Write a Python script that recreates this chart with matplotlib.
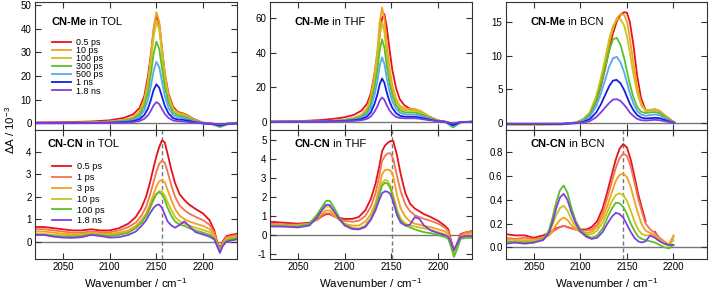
import matplotlib
matplotlib.use('Agg')
import numpy as np
import matplotlib.pyplot as plt

plt.rcParams['font.family'] = ['Liberation Sans', 'DejaVu Sans']
plt.rcParams['mathtext.fontset'] = 'custom'
plt.rcParams['mathtext.rm'] = 'Liberation Sans'
plt.rcParams['mathtext.it'] = 'Liberation Sans:italic'
plt.rcParams['mathtext.bf'] = 'Liberation Sans:bold'

# ---------------- data ----------------
# CN-Me in TOL
wn_me_tol = [2020, 2050, 2080, 2100, 2115, 2125, 2132, 2137, 2141, 2144, 2147, 2150, 2153, 2156, 2159, 2163, 2168, 2173, 2178, 2183, 2190, 2200, 2210, 2218, 2226, 2236]
me_tol_05ps = [0.4,0.5,0.8,1.3,2.3,3.8,6.5,11.5,20,29,39.5,45.8,42,31.5,21,12.5,7,4.8,4.3,3.5,1.8,0.3,-0.1,-0.5,-0.1,0]
me_tol_10ps = [0.2,0.25,0.4,0.8,1.5,2.6,5,10,18,28,40,47,43,32,21,11.8,6.3,4.5,4.1,3.3,1.6,0.2,-0.3,-1.2,-0.3,0]
me_tol_100ps = [0.2,0.2,0.35,0.7,1.3,2.3,4.5,9.1,16.5,25.6,36.6,43,39.5,29.3,19.2,10.8,5.8,4.1,3.7,3,1.4,0.1,-0.4,-1.5,-0.4,0]
me_tol_300ps = [0.15,0.2,0.3,0.55,1.1,1.9,3.7,7.3,13.2,20.5,29.4,34.5,31.6,23.4,15.4,8.7,4.6,3.3,3.0,2.4,1.2,0.1,-0.4,-1.5,-0.4,0]
me_tol_500ps = [0.1,0.15,0.2,0.45,0.8,1.4,2.8,5.5,10,15.5,22.1,26,23.8,17.7,11.6,6.5,3.5,2.5,2.3,1.8,0.9,0.05,-0.3,-1.2,-0.3,0]
me_tol_1ns = [0.1,0.1,0.15,0.3,0.5,0.9,1.8,3.5,6.3,9.8,14.1,16.5,15.1,11.3,7.4,4.2,2.2,1.6,1.5,1.2,0.6,0,-0.2,-0.9,-0.2,0]
me_tol_18ns = [0.05,0.05,0.1,0.15,0.3,0.5,1.0,1.9,3.4,5.3,7.6,9,8.2,6.1,4.0,2.3,1.2,0.9,0.8,0.6,0.3,0,-0.1,-0.5,-0.1,0]

# CN-Me in THF
wn_me_thf = [2020, 2050, 2075, 2090, 2100, 2110, 2118, 2124, 2128, 2132, 2135, 2137.5, 2140, 2142.5, 2145, 2148, 2151, 2155, 2159, 2164, 2170, 2176, 2182, 2190, 2200, 2208, 2216, 2224, 2236]
me_thf_05ps = [0,0.3,1.0,1.8,2.6,4,6.5,10.5,16.5,28,39,50,60,62.5,55,42,30,19.5,13,9.5,7.5,7,5.5,3,0.8,0,-1.5,-0.3,0]
me_thf_10ps = [0,0.1,0.3,0.7,1.2,2.3,4,8,14.6,27.8,41.8,57.7,66.3,59.7,45.1,31.2,21.2,13.3,9.3,7.6,7.3,7.3,6,3.3,0.8,-0.2,-3,-0.5,0]
me_thf_100ps = [0,0.1,0.3,0.6,1.0,2.0,3.5,7,12.8,24.4,36.5,50.5,58,52.2,39.4,27.3,18.6,11.6,8.1,6.7,6.4,6.4,5.2,2.9,0.7,-0.2,-3.2,-0.5,0]
me_thf_300ps = [0,0.1,0.2,0.5,0.9,1.7,2.9,5.7,10.5,20.1,30.1,41.6,47.8,43,32.5,22.5,15.3,9.6,6.7,5.5,5.3,5.3,4.3,2.4,0.6,-0.1,-3.3,-0.4,0]
me_thf_500ps = [0,0.1,0.2,0.4,0.7,1.3,2.2,4.5,8.2,15.7,23.5,32.5,37.3,33.6,25.4,17.5,11.9,7.5,5.2,4.3,4.1,4.1,3.4,1.9,0.4,-0.1,-2.6,-0.3,0]
me_thf_1ns = [0,0,0.1,0.3,0.5,0.9,1.5,3,5.5,10.5,15.8,21.8,25.1,22.6,17.1,11.8,8,5,3.5,2.9,2.8,2.8,2.3,1.3,0.3,-0.1,-2,-0.2,0]
me_thf_18ns = [0,0,0.1,0.2,0.3,0.5,0.9,1.7,3.1,5.9,8.9,12.3,14.1,12.7,9.6,6.6,4.5,2.8,2.2,2,2,2,1.6,0.9,0.2,0,-1,-0.1,0]

# CN-Me in BCN
wn_me_bcn = [2020, 2050, 2080, 2095, 2103, 2110, 2117, 2122, 2127, 2131, 2135, 2139, 2143, 2147, 2150, 2153, 2157, 2161, 2165, 2170, 2175, 2180, 2185, 2192, 2201]
me_bcn_05ps = [-0.15,-0.15,-0.1,0.1,0.5,1.3,3.2,5.5,8.3,11,13.3,15,16,16.4,16.3,15,11.5,7,3.8,1.9,1.9,2.05,1.8,1.0,0.1]
me_bcn_10ps = [-0.2,-0.2,-0.15,0.1,0.6,1.5,3.8,6.3,9.3,12,14,15.5,16.1,16,15,12.6,8.8,5.3,3,1.9,2.0,2.05,1.8,1.0,0.1]
me_bcn_100ps = [-0.25,-0.25,-0.2,0.1,0.6,1.6,4,6.7,9.8,12.5,14.4,15.3,15.4,14.4,12.8,10.5,7.2,4.5,2.7,1.8,1.9,2.0,1.7,0.9,0.1]
me_bcn_300ps = [-0.1,-0.1,-0.1,0.1,0.5,1.3,3.3,5.7,8.5,10.8,12.4,12.6,11.6,9.6,7.7,5.8,3.8,2.4,1.7,1.5,1.6,1.65,1.5,0.8,0.1]
me_bcn_500ps = [-0.1,-0.1,-0.1,0.05,0.35,1,2.5,4.4,6.6,8.4,9.6,9.8,9,7.5,6,4.5,2.9,1.8,1.3,1.1,1.2,1.3,1.2,0.6,0.1]
me_bcn_1ns = [-0.1,-0.1,-0.1,0,0.2,0.6,1.6,2.8,4.3,5.5,6.3,6.4,5.9,4.9,3.9,2.9,1.9,1.2,0.85,0.7,0.75,0.8,0.75,0.4,0.05]
me_bcn_18ns = [-0.05,-0.05,-0.05,0,0.1,0.3,0.9,1.6,2.4,3.0,3.5,3.55,3.3,2.7,2.2,1.6,1.05,0.65,0.45,0.4,0.45,0.5,0.45,0.25,0.05]

# CN-CN in TOL
wn_cn_tol = [2020, 2030, 2040, 2050, 2060, 2070, 2080, 2090, 2100, 2110, 2120, 2128, 2134, 2139, 2143, 2147, 2150, 2153, 2156, 2159, 2162, 2166, 2170, 2175, 2180, 2185, 2192, 2200, 2207, 2212, 2215, 2218, 2221, 2225, 2230, 2236]
cn_tol_05ps = [0.65,0.65,0.6,0.55,0.5,0.5,0.55,0.5,0.5,0.6,0.8,1.1,1.5,2.0,2.6,3.3,3.8,4.2,4.5,4.4,3.9,3.2,2.6,2.1,1.85,1.65,1.45,1.25,0.95,0.5,0.0,-0.3,0.0,0.25,0.3,0.35]
cn_tol_1ps = [0.55,0.55,0.5,0.45,0.4,0.4,0.45,0.42,0.42,0.5,0.65,0.85,1.15,1.55,2.05,2.65,3.1,3.45,3.6,3.5,3.1,2.5,2.0,1.6,1.4,1.25,1.1,0.95,0.75,0.4,-0.05,-0.35,-0.05,0.2,0.25,0.3]
cn_tol_3ps = [0.45,0.45,0.4,0.35,0.33,0.33,0.4,0.35,0.35,0.4,0.5,0.7,0.95,1.25,1.65,2.1,2.45,2.68,2.75,2.62,2.3,1.85,1.45,1.15,1.0,0.9,0.8,0.7,0.55,0.3,-0.1,-0.4,-0.1,0.15,0.2,0.25]
cn_tol_10ps = [0.35,0.35,0.3,0.28,0.27,0.28,0.35,0.3,0.3,0.35,0.45,0.62,0.85,1.12,1.45,1.85,2.1,2.25,2.22,2.05,1.75,1.4,1.1,0.9,0.8,0.72,0.62,0.52,0.42,0.2,-0.15,-0.42,-0.1,0.1,0.15,0.2]
cn_tol_100ps = [0.3,0.3,0.25,0.22,0.22,0.25,0.32,0.28,0.25,0.3,0.4,0.6,0.85,1.15,1.5,1.9,2.12,2.2,2.1,1.85,1.5,1.15,0.9,0.75,0.7,0.6,0.5,0.4,0.3,0.15,-0.15,-0.45,-0.15,0.05,0.1,0.15]
cn_tol_18ns = [0.3,0.3,0.22,0.18,0.17,0.2,0.3,0.25,0.18,0.2,0.3,0.45,0.7,0.95,1.25,1.5,1.62,1.65,1.5,1.2,0.9,0.72,0.62,0.75,0.9,0.7,0.42,0.32,0.22,0.1,-0.2,-0.5,-0.2,0.0,0.05,0.1]

# CN-CN in THF
wn_cn_thf = [2020, 2035, 2050, 2062, 2070, 2076, 2080, 2084, 2088, 2094, 2100, 2108, 2115, 2122, 2128, 2133, 2137, 2140, 2143, 2146, 2149, 2152, 2156, 2160, 2165, 2170, 2175, 2180, 2185, 2192, 2200, 2207, 2211, 2214, 2217, 2220, 2224, 2230, 2236]
cn_thf_05ps = [0.7,0.65,0.6,0.65,0.8,1.0,1.1,1.1,1.0,0.9,0.85,0.85,0.95,1.3,1.9,2.7,3.6,4.4,4.7,4.85,4.95,4.95,4.2,3.2,2.2,1.65,1.4,1.25,1.1,0.95,0.75,0.5,0.3,-0.3,-0.8,-0.5,0.05,0.15,0.2]
cn_thf_1ps = [0.6,0.55,0.55,0.6,0.8,1.05,1.15,1.15,1.0,0.85,0.75,0.7,0.75,1.0,1.5,2.2,3.1,3.9,4.15,4.3,4.3,4.0,3.1,2.3,1.6,1.25,1.05,0.95,0.85,0.75,0.6,0.4,0.2,-0.35,-0.85,-0.5,0.0,0.15,0.2]
cn_thf_3ps = [0.55,0.5,0.5,0.6,0.85,1.15,1.3,1.3,1.1,0.8,0.6,0.5,0.5,0.7,1.1,1.7,2.5,3.2,3.42,3.45,3.4,3.1,2.1,1.4,0.95,0.72,0.6,0.55,0.48,0.42,0.3,0.2,0.05,-0.45,-0.95,-0.6,-0.1,0.05,0.1]
cn_thf_10ps = [0.5,0.5,0.5,0.6,0.95,1.3,1.5,1.5,1.25,0.85,0.55,0.38,0.35,0.5,0.9,1.5,2.2,2.75,2.9,2.85,2.6,2.1,1.35,0.85,0.6,0.5,0.45,0.4,0.35,0.28,0.15,0.05,-0.1,-0.55,-1.05,-0.7,-0.15,-0.05,0.0]
cn_thf_100ps = [0.5,0.45,0.45,0.6,1.05,1.5,1.8,1.8,1.5,0.95,0.55,0.35,0.3,0.45,0.85,1.45,2.1,2.6,2.75,2.7,2.45,1.9,1.2,0.75,0.5,0.4,0.3,0.22,0.15,0.1,0.0,-0.1,-0.2,-0.65,-1.15,-0.8,-0.2,-0.15,-0.15]
cn_thf_18ns = [0.45,0.45,0.4,0.5,0.9,1.35,1.6,1.58,1.3,0.85,0.5,0.32,0.3,0.42,0.8,1.3,1.85,2.2,2.3,2.28,2.15,1.75,1.05,0.65,0.5,0.55,0.95,0.85,0.5,0.25,0.1,0.0,-0.1,-0.4,-0.8,-0.5,-0.1,-0.05,-0.05]

# CN-CN in BCN
wn_cn_bcn = [2020, 2030, 2040, 2050, 2060, 2066, 2070, 2074, 2078, 2082, 2086, 2090, 2095, 2100, 2106, 2112, 2118, 2124, 2129, 2134, 2138, 2142, 2146, 2150, 2154, 2158, 2162, 2166, 2170, 2175, 2180, 2185, 2190, 2195, 2200]
cn_bcn_05ps = [0.11,0.1,0.1,0.08,0.1,0.12,0.14,0.16,0.17,0.18,0.17,0.16,0.15,0.15,0.15,0.17,0.22,0.33,0.47,0.62,0.74,0.83,0.87,0.84,0.74,0.6,0.45,0.33,0.22,np.nan,0.13,0.07,np.nan,np.nan,np.nan]
cn_bcn_1ps = [0.08,0.07,0.08,0.07,0.08,0.1,0.13,0.15,0.17,0.18,0.17,0.16,0.15,0.14,0.14,0.15,0.19,0.29,0.42,0.56,0.67,0.75,0.79,0.77,0.68,0.55,0.41,0.3,0.2,0.15,0.12,0.08,0.05,0.02,0.09]
cn_bcn_3ps = [0.07,0.06,0.06,0.06,0.07,0.1,0.14,0.19,0.23,0.25,0.23,0.19,0.15,0.13,0.12,0.13,0.17,0.25,0.35,0.47,0.56,0.61,0.62,0.59,0.51,0.39,0.28,0.19,0.14,0.12,0.1,0.07,0.04,0.02,0.1]
cn_bcn_10ps = [0.05,0.05,0.05,0.05,0.07,0.12,0.19,0.27,0.33,0.35,0.31,0.24,0.17,0.13,0.11,0.11,0.14,0.21,0.3,0.39,0.44,0.455,0.44,0.39,0.31,0.22,0.15,0.11,0.1,0.1,0.08,0.06,0.03,0.01,0.06]
cn_bcn_100ps = [0.05,0.04,0.04,0.04,0.07,0.14,0.25,0.38,0.48,0.52,0.46,0.34,0.22,0.15,0.1,0.08,0.1,0.16,0.25,0.33,0.375,0.37,0.34,0.28,0.2,0.14,0.09,0.07,0.06,0.05,0.04,0.02,0.0,-0.01,0.02]
cn_bcn_18ns = [0.03,0.04,0.03,0.04,0.06,0.12,0.21,0.33,0.42,0.45,0.4,0.3,0.2,0.13,0.09,0.07,0.08,0.13,0.2,0.26,0.29,0.28,0.25,0.19,0.13,0.08,0.05,0.04,0.05,0.1,0.08,0.05,0.03,0.02,0.02]

me_labels = ['0.5 ps', '10 ps', '100 ps', '300 ps', '500 ps', '1 ns', '1.8 ns']
cn_labels = ['0.5 ps', '1 ps', '3 ps', '10 ps', '100 ps', '1.8 ns']
solvents = ['TOL', 'THF', 'BCN']
dash_pos = [2156.5, 2151, 2146]

# ---------------- styles ----------------
RED = '#e8101a'; ORANGE = '#f5a020'; CORAL = '#f07550'; YELLOW = '#cac31e'
GREEN = '#5cbf2a'; LBLUE = '#55a8f0'; BLUE = '#1020e0'; PURPLE = '#7f3fe0'
me_colors = [RED, ORANGE, YELLOW, GREEN, LBLUE, BLUE, PURPLE]
cn_colors = [RED, CORAL, ORANGE, YELLOW, GREEN, PURPLE]

me_sets = [
    (wn_me_tol, [me_tol_05ps, me_tol_10ps, me_tol_100ps, me_tol_300ps, me_tol_500ps, me_tol_1ns, me_tol_18ns]),
    (wn_me_thf, [me_thf_05ps, me_thf_10ps, me_thf_100ps, me_thf_300ps, me_thf_500ps, me_thf_1ns, me_thf_18ns]),
    (wn_me_bcn, [me_bcn_05ps, me_bcn_10ps, me_bcn_100ps, me_bcn_300ps, me_bcn_500ps, me_bcn_1ns, me_bcn_18ns]),
]
cn_sets = [
    (wn_cn_tol, [cn_tol_05ps, cn_tol_1ps, cn_tol_3ps, cn_tol_10ps, cn_tol_100ps, cn_tol_18ns]),
    (wn_cn_thf, [cn_thf_05ps, cn_thf_1ps, cn_thf_3ps, cn_thf_10ps, cn_thf_100ps, cn_thf_18ns]),
    (wn_cn_bcn, [cn_bcn_05ps, cn_bcn_1ps, cn_bcn_3ps, cn_bcn_10ps, cn_bcn_100ps, cn_bcn_18ns]),
]
top_ylims = [(-2.8, 51.3), (-4.8, 69.5), (-1.0, 17.9)]
top_yticks = [[0, 10, 20, 30, 40, 50], [0, 20, 40, 60], [0, 5, 10, 15]]
bot_ylims = [(-0.77, 4.96), (-1.26, 5.53), (-0.099, 0.988)]
bot_yticks = [[0, 1, 2, 3, 4], [-1, 0, 1, 2, 3, 4, 5], [0.0, 0.2, 0.4, 0.6, 0.8]]
bot_fmt = ['{:g}', '{:g}', '{:.1f}']

W, H = 709, 291
fig = plt.figure(figsize=(W / 100, H / 100), dpi=100)
col_left = [35, 270, 506]
col_w = [201.7, 201.7, 201]
y_top, y_mid, y_bot = 2, 130, 259
TF = 7.0
LW = 1.3
SP = '#333333'

def style(ax):
    for s in ax.spines.values():
        s.set_color(SP); s.set_linewidth(0.8)
    ax.tick_params(axis='both', which='both', direction='in', length=4, width=0.8,
                   color=SP, labelsize=TF, pad=2.5)
    ax.tick_params(axis='x', top=True, bottom=True)
    ax.tick_params(axis='y', left=True, right=True)
    ax.set_xlim(2020, 2236)
    ax.set_xticks([2050, 2100, 2150, 2200])

def label(ax, bold, rest, x, y):
    t = ax.text(x, y, bold, transform=ax.transAxes, fontsize=8, fontweight='bold',
                va='top', ha='left')
    ax.annotate(rest, xy=(1, 0), xycoords=t, fontsize=8, va='bottom', ha='left')

for i in range(3):
    x0 = col_left[i] / W
    w = col_w[i] / W
    axt = fig.add_axes([x0, (H - y_mid) / H, w, (y_mid - y_top) / H])
    axb = fig.add_axes([x0, (H - y_bot) / H, w, (y_bot - y_mid) / H])
    style(axt); style(axb)
    axt.set_xticklabels([])

    # top
    axt.axhline(0, color='#777777', lw=1.0, zorder=1)
    wn, ser = me_sets[i]
    for s, c, lab in zip(ser, me_colors, me_labels):
        axt.plot(wn, s, color=c, lw=LW, label=lab, zorder=2)
    axt.set_ylim(*top_ylims[i])
    axt.set_yticks(top_yticks[i])
    label(axt, 'CN-Me', ' in ' + solvents[i], 0.08 if i == 0 else 0.12, 0.88)

    # bottom
    axb.axhline(0, color='#777777', lw=1.0, zorder=1)
    axb.axvline(dash_pos[i], color='#777777', lw=1.0, ls=(0, (3, 2)), zorder=1)
    wn, ser = cn_sets[i]
    for s, c, lab in zip(ser, cn_colors, cn_labels):
        axb.plot(wn, s, color=c, lw=LW, label=lab, zorder=2)
    axb.set_ylim(*bot_ylims[i])
    axb.set_yticks(bot_yticks[i])
    axb.set_yticklabels([bot_fmt[i].format(v) for v in bot_yticks[i]])
    axb.set_xticklabels(['2050', '2100', '2150', '2200'])
    label(axb, 'CN-CN', ' in ' + solvents[i], 0.06 if i == 0 else 0.12, 0.93)

    fig.text((col_left[i] + col_w[i] / 2) / W, (H - 283) / H, r'Wavenumber / cm$^{-1}$',
             ha='center', va='center', fontsize=8.2)

    if i == 0:
        axt.legend(loc='upper left', bbox_to_anchor=(0.085, 0.72), frameon=False,
                   fontsize=6.4, handlelength=2.1, handletextpad=0.6, labelspacing=-0.1,
                   borderpad=0, borderaxespad=0)
        axb.legend(loc='upper left', bbox_to_anchor=(0.085, 0.75), frameon=False,
                   fontsize=6.6, handlelength=2.1, handletextpad=0.6, labelspacing=0.2,
                   borderpad=0, borderaxespad=0)

fig.text(10 / W, (H - 130) / H, r'ΔA / 10$^{-3}$', rotation=90, ha='center', va='center', fontsize=8.2)

fig.savefig('out.png', dpi=100)
